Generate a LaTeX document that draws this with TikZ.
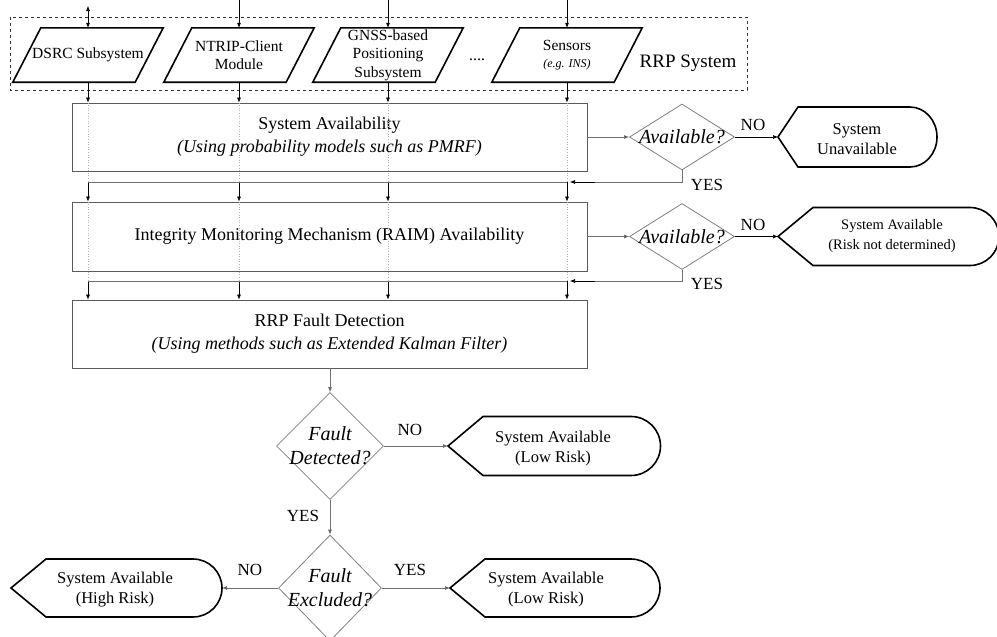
\documentclass[tikz,border=0pt]{standalone}
\usepackage{fontspec}
\setmainfont{Liberation Serif}
\usetikzlibrary{shapes.geometric,arrows.meta,calc}
\definecolor{boxgray}{HTML}{5A5A5A}
\definecolor{diagray}{HTML}{808080}
\definecolor{linegray}{HTML}{707070}
\definecolor{dotgray}{HTML}{B0B0B0}
\newcommand{\dispshape}[6]{%
  \draw[dshape] (#1,#2) -- (#3,#2+#5) -- (#4,#2+#5)
    arc[start angle=90,end angle=-90,x radius=#6pt,y radius=#5pt] -- (#3,#2-#5) -- cycle;}
\tikzset{
  box/.style={draw=boxgray, line width=0.8pt, minimum width=515pt, inner sep=0pt, align=center, font=\fontsize{18}{23}\selectfont},
  dia/.style={diamond, draw=diagray, line width=0.8pt, inner sep=0pt},
  ditext/.style={font=\fontsize{20}{24}\selectfont\itshape, align=center},
  pbox/.style={minimum width=122pt, minimum height=54pt, inner sep=0pt, align=center, font=\fontsize{15.5}{18.5}\selectfont},
  pshape/.style={draw=black, line width=1.6pt, line join=miter},
  dshape/.style={draw=black, line width=1.6pt, line join=miter},
  dtext/.style={inner sep=0pt, align=center, font=\fontsize{16.5}{20}\selectfont},
  arr/.style={-{Latex[length=5pt,width=4pt]}, line width=0.6pt, draw=black},
  garr/.style={-{Latex[length=5pt,width=4pt,fill=black]}, line width=0.8pt, draw=linegray},
  gline/.style={line width=0.8pt, draw=linegray},
  dotl/.style={draw=dotgray, dotted, line width=0.6pt},
  lbl/.style={inner sep=0pt, font=\fontsize{17}{20}\selectfont},
}
\begin{document}
\begin{tikzpicture}[x=1pt,y=1pt]
\useasboundingbox (0,0) rectangle (997,-637);

% dashed system frame
\draw[dashed, line width=0.6pt, draw=black!80] (10,-17) rectangle (747,-90);
\node[lbl, font=\fontsize{19}{22}\selectfont] (rrp) at (688,-63) {RRP System};
\node[lbl, font=\fontsize{16}{18}\selectfont] (dots) at (477,-60) {....};

% parallelograms
\node[pbox] (p1) at (88,-55) {\raisebox{-6pt}{DSRC Subsystem}};
\node[pbox] (p2) at (239,-55) {NTRIP-Client\\Module};
\node[pbox] (p3) at (388,-55) {GNSS-based\\Positioning\\Subsystem};
\node[pbox] (p4) at (567,-55) {Sensors\\[-2pt]{\fontsize{12}{14}\selectfont\itshape (e.g. INS)}};
\foreach \n in {p1,p2,p3,p4}{
  \draw[pshape] ($(\n.south west)+(-14,0)$) -- ($(\n.south east)+(-14,0)$)
     -- ($(\n.north east)+(14,0)$) -- ($(\n.north west)+(14,0)$) -- cycle;
}
% inputs
\coordinate (t1) at (88,-6);
\coordinate (t2) at (239,0);
\coordinate (t3) at (388,0);
\coordinate (t4) at (567,0);
\draw[{Latex[length=5pt,width=4pt]}-{Latex[length=5pt,width=4pt]}, line width=0.6pt] (t1) -- (p1.north);
\draw[arr] (t2) -- (p2.north);
\draw[arr] (t3) -- (p3.north);
\draw[arr] (t4) -- (p4.north);

% main boxes
\node[box, minimum height=68pt] (b1) at (329.5,-137) {System Availability\\{\itshape (Using probability models such as PMRF)}};
\node[box, minimum height=69pt] (b2) at (329.5,-236.5) {Integrity Monitoring Mechanism (RAIM) Availability};
\node[box, minimum height=68pt] (b3) at (329.5,-334) {RRP Fault Detection\\{\itshape (Using methods such as Extended Kalman Filter)}};

\coordinate (h1) at (0,-182);
\coordinate (h2) at (0,-281);

\foreach \n in {p1,p2,p3,p4}{
  \draw[arr] (\n.south) -- (\n.south |- b1.north);
  \draw[dotl] (\n.south |- b1.north) -- (\n.south |- h1);
  \draw[arr] (\n.south |- h1) -- (\n.south |- b2.north);
  \draw[dotl] (\n.south |- b2.north) -- (\n.south |- h2);
  \draw[arr] (\n.south |- h2) -- (\n.south |- b3.north);
}
\draw[gline] (p1.south |- h1) -- (p4.south |- h1);
\draw[gline] (p1.south |- h2) -- (p4.south |- h2);

% decisions stage 1
\node[dia, minimum width=105pt, minimum height=66pt, label={[ditext]center:Available?}] (d1) at (682,-137) {};
\draw[garr] (b1.east) -- (d1.west);
\dispshape{778}{-137}{798}{910}{30}{27}
\coordinate (u1w) at (778,-137);
\node[dtext] (u1) at (857,-139) {System\\Unavailable};
\draw[arr] (d1.east) -- (u1w);
\node[lbl] (no1) at (753,-125) {NO};
\coordinate (r1) at ($(p4.south |- h1)+(28,0)$);
\draw[gline] (d1.south) |- (r1);
\draw[arr] (r1) -- ($(p4.south |- h1)+(3,0)$);
\node[lbl] (yes1) at (707,-185) {YES};

% decisions stage 2
\node[dia, minimum width=105pt, minimum height=66pt, label={[ditext]center:Available?}] (d2) at (682,-236.5) {};
\draw[garr] (b2.east) -- (d2.west);
\dispshape{778}{-236.5}{813}{970}{29}{29}
\coordinate (u2w) at (778,-236.5);
\node[dtext, font=\fontsize{14.5}{20}\selectfont] (u2) at (892,-236) {System Available\\(Risk not determined)};
\draw[arr] (d2.east) -- (u2w);
\node[lbl] (no2) at (753,-225) {NO};
\coordinate (r2) at ($(p4.south |- h2)+(28,0)$);
\draw[gline] (d2.south) |- (r2);
\draw[arr] (r2) -- ($(p4.south |- h2)+(3,0)$);
\node[lbl] (yes2) at (707,-284) {YES};

% fault detection
\node[dia, minimum width=107pt, minimum height=107pt, label={[ditext]center:{Fault\\Detected?}}] (d3) at (330,-446) {};
\draw[garr] (b3.south -| d3.north) -- (d3.north);
\dispshape{448}{-446}{483}{631}{29.5}{29.5}
\coordinate (u3w) at (448,-446);
\node[dtext] (u3) at (553,-449) {System Available\\(Low Risk)};
\draw[garr] (d3.east) -- (u3w);
\node[lbl] (no3) at (410,-430) {NO};

% fault exclusion
\node[dia, minimum width=103pt, minimum height=106pt, label={[ditext]center:{Fault\\Excluded?}}] (d4) at (330,-588) {};
\draw[garr] (d3.south) -- (d4.north);
\node[lbl] (yes3) at (303,-516) {YES};
\dispshape{11}{-588}{46}{193}{29}{29}
\coordinate (u4e) at (222,-588);
\node[dtext] (u4) at (115,-590) {System Available\\(High Risk)};
\draw[garr] (d4.west) -- (u4e);
\node[lbl] (no4) at (250,-570) {NO};
\dispshape{450}{-588}{485}{631}{29}{29}
\coordinate (u5w) at (450,-588);
\node[dtext] (u5) at (546,-590) {System Available\\(Low Risk)};
\draw[garr] (d4.east) -- (u5w);
\node[lbl] (yes4) at (410,-570) {YES};
\end{tikzpicture}
\end{document}
